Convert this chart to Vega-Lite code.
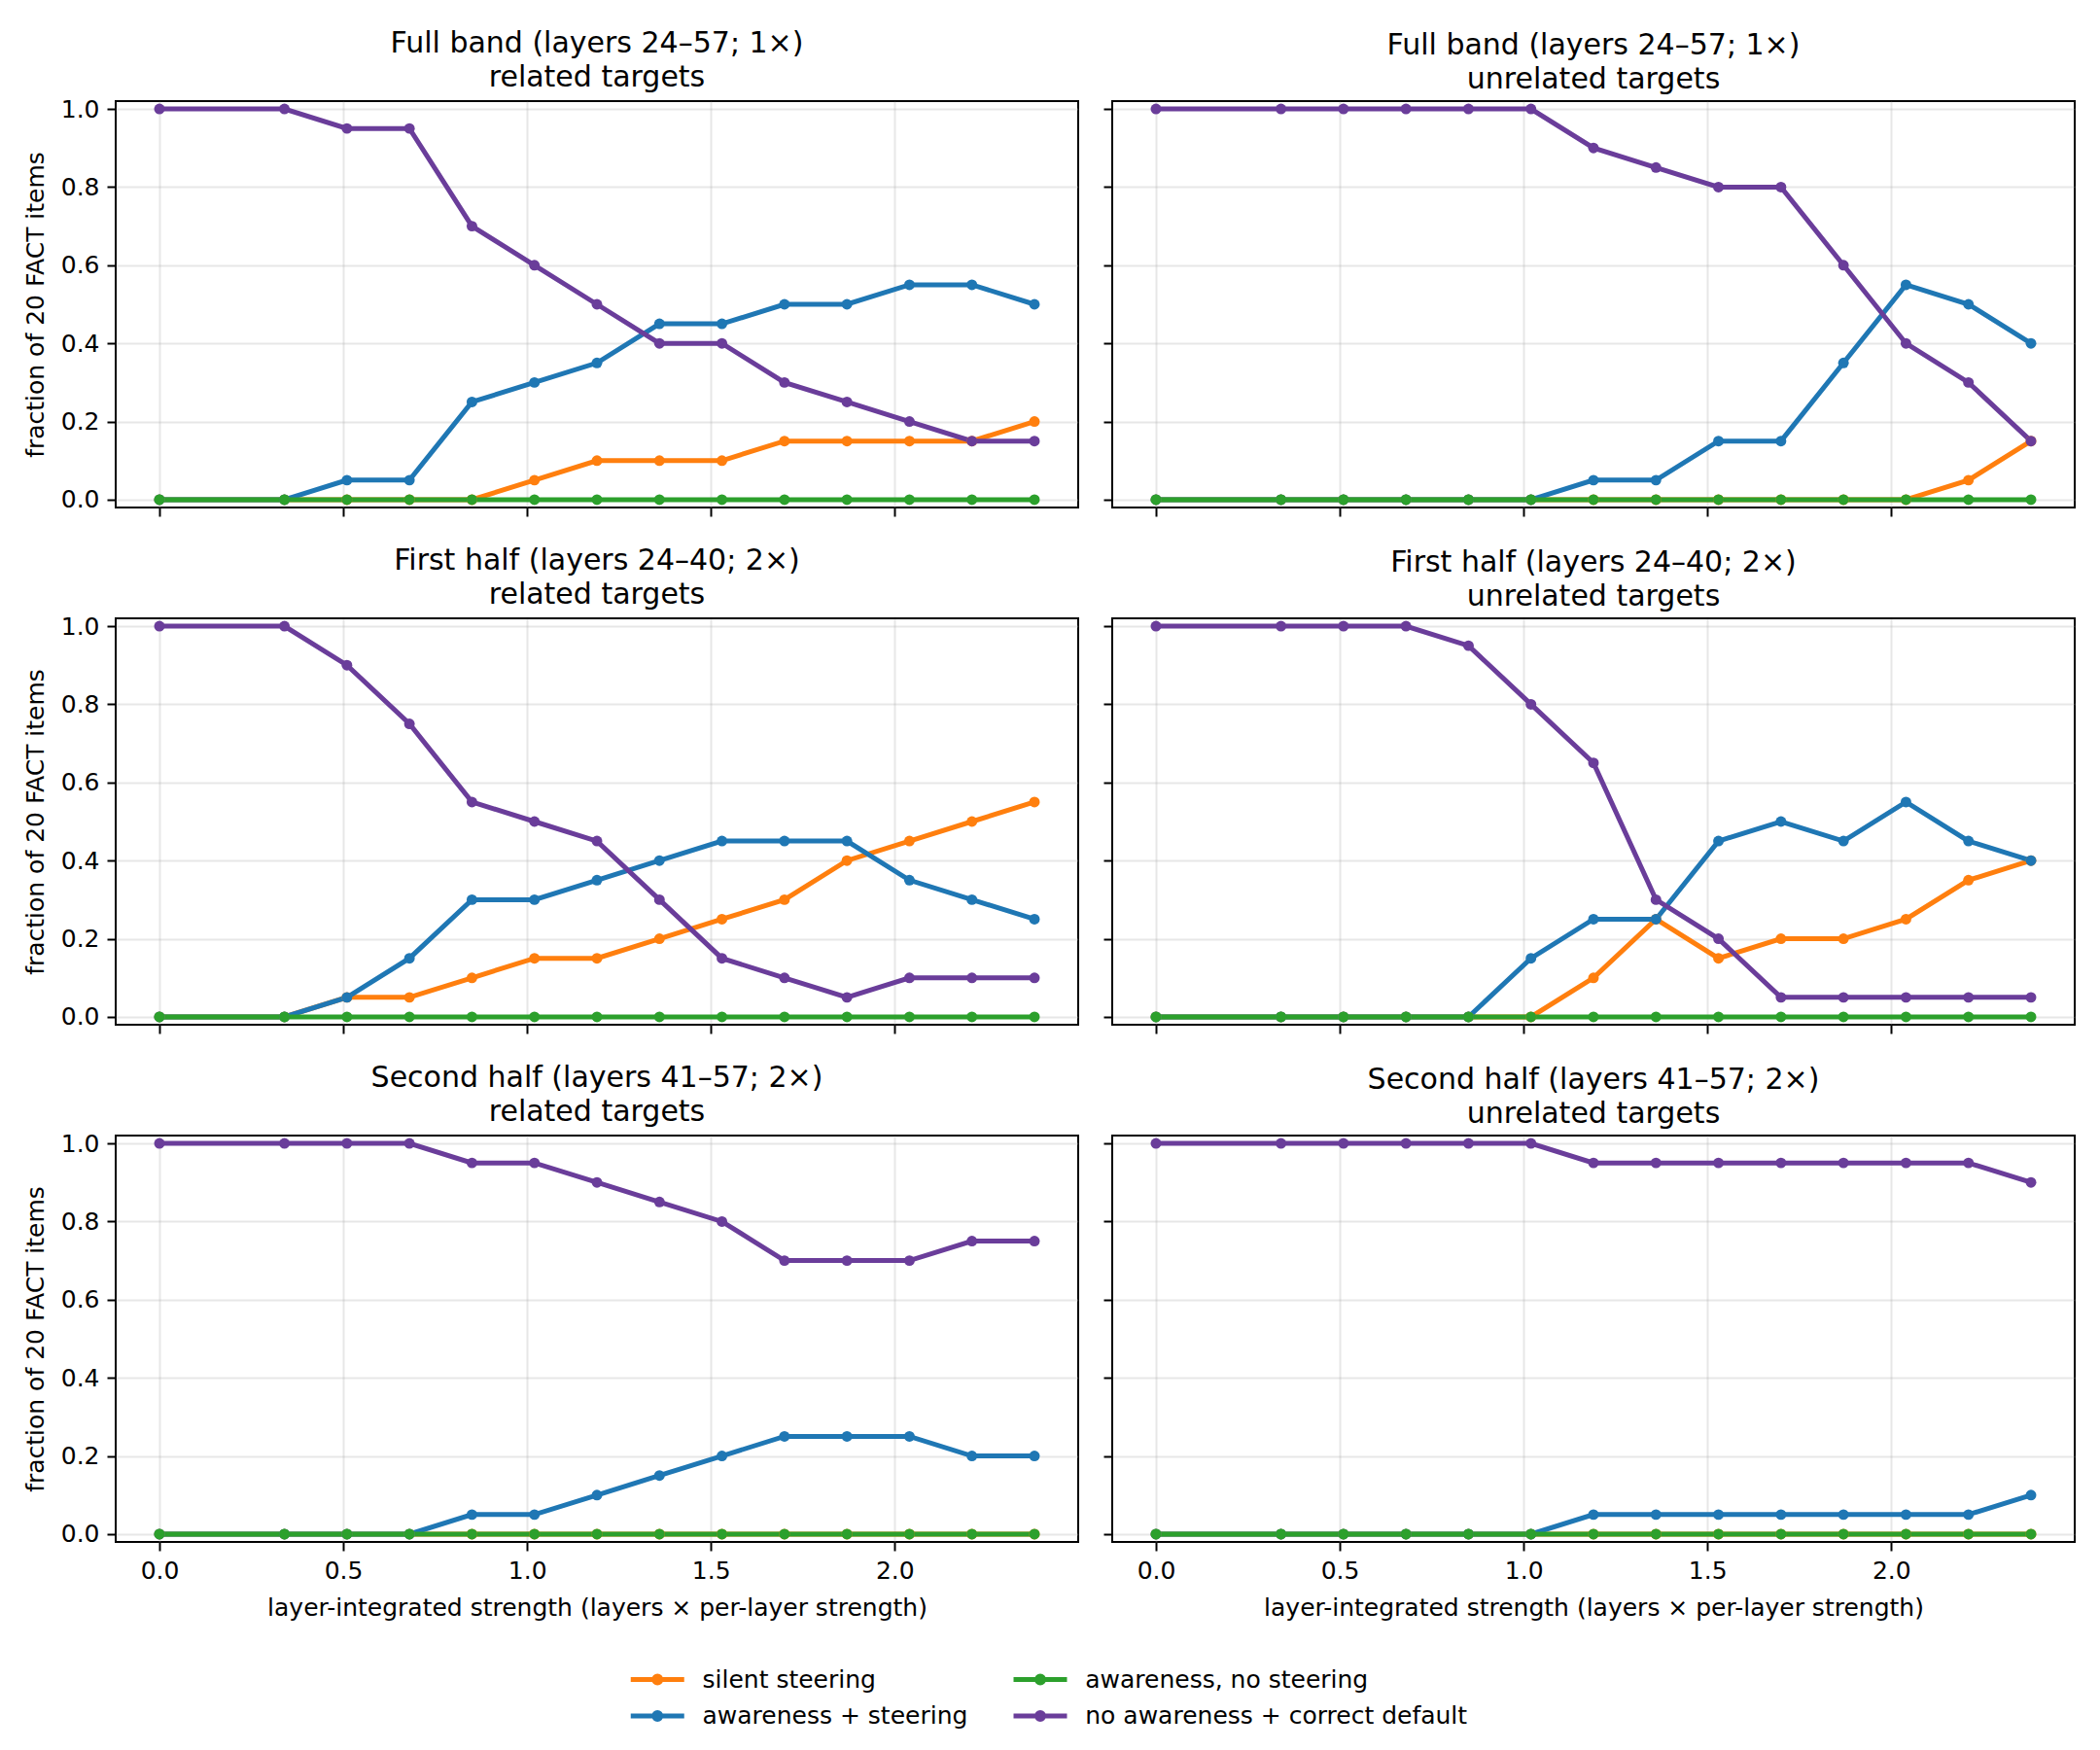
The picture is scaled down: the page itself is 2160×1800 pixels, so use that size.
{
"$schema": "https://vega.github.io/schema/vega-lite/v6.json",
"background": "white",
"padding": {"left": 23, "top": 28, "right": 5, "bottom": 5},
"columns": 2,
"spacing": {"row": 114, "column": 35},
"bounds": "flush",
"datasets": {"d": [
{"p":"FR","s":"a","x":0,"v":0},{"p":"FR","s":"a","x":0.34,"v":0},{"p":"FR","s":"a","x":0.51,"v":0},{"p":"FR","s":"a","x":0.68,"v":0},{"p":"FR","s":"a","x":0.85,"v":0},{"p":"FR","s":"a","x":1.02,"v":0.05},{"p":"FR","s":"a","x":1.19,"v":0.1},{"p":"FR","s":"a","x":1.36,"v":0.1},{"p":"FR","s":"a","x":1.53,"v":0.1},{"p":"FR","s":"a","x":1.7,"v":0.15},{"p":"FR","s":"a","x":1.87,"v":0.15},{"p":"FR","s":"a","x":2.04,"v":0.15},{"p":"FR","s":"a","x":2.21,"v":0.15},{"p":"FR","s":"a","x":2.38,"v":0.2},
{"p":"FR","s":"b","x":0,"v":0},{"p":"FR","s":"b","x":0.34,"v":0},{"p":"FR","s":"b","x":0.51,"v":0.05},{"p":"FR","s":"b","x":0.68,"v":0.05},{"p":"FR","s":"b","x":0.85,"v":0.25},{"p":"FR","s":"b","x":1.02,"v":0.3},{"p":"FR","s":"b","x":1.19,"v":0.35},{"p":"FR","s":"b","x":1.36,"v":0.45},{"p":"FR","s":"b","x":1.53,"v":0.45},{"p":"FR","s":"b","x":1.7,"v":0.5},{"p":"FR","s":"b","x":1.87,"v":0.5},{"p":"FR","s":"b","x":2.04,"v":0.55},{"p":"FR","s":"b","x":2.21,"v":0.55},{"p":"FR","s":"b","x":2.38,"v":0.5},
{"p":"FR","s":"c","x":0,"v":0},{"p":"FR","s":"c","x":0.34,"v":0},{"p":"FR","s":"c","x":0.51,"v":0},{"p":"FR","s":"c","x":0.68,"v":0},{"p":"FR","s":"c","x":0.85,"v":0},{"p":"FR","s":"c","x":1.02,"v":0},{"p":"FR","s":"c","x":1.19,"v":0},{"p":"FR","s":"c","x":1.36,"v":0},{"p":"FR","s":"c","x":1.53,"v":0},{"p":"FR","s":"c","x":1.7,"v":0},{"p":"FR","s":"c","x":1.87,"v":0},{"p":"FR","s":"c","x":2.04,"v":0},{"p":"FR","s":"c","x":2.21,"v":0},{"p":"FR","s":"c","x":2.38,"v":0},
{"p":"FR","s":"d","x":0,"v":1},{"p":"FR","s":"d","x":0.34,"v":1},{"p":"FR","s":"d","x":0.51,"v":0.95},{"p":"FR","s":"d","x":0.68,"v":0.95},{"p":"FR","s":"d","x":0.85,"v":0.7},{"p":"FR","s":"d","x":1.02,"v":0.6},{"p":"FR","s":"d","x":1.19,"v":0.5},{"p":"FR","s":"d","x":1.36,"v":0.4},{"p":"FR","s":"d","x":1.53,"v":0.4},{"p":"FR","s":"d","x":1.7,"v":0.3},{"p":"FR","s":"d","x":1.87,"v":0.25},{"p":"FR","s":"d","x":2.04,"v":0.2},{"p":"FR","s":"d","x":2.21,"v":0.15},{"p":"FR","s":"d","x":2.38,"v":0.15},

{"p":"FU","s":"a","x":0,"v":0},{"p":"FU","s":"a","x":0.34,"v":0},{"p":"FU","s":"a","x":0.51,"v":0},{"p":"FU","s":"a","x":0.68,"v":0},{"p":"FU","s":"a","x":0.85,"v":0},{"p":"FU","s":"a","x":1.02,"v":0},{"p":"FU","s":"a","x":1.19,"v":0},{"p":"FU","s":"a","x":1.36,"v":0},{"p":"FU","s":"a","x":1.53,"v":0},{"p":"FU","s":"a","x":1.7,"v":0},{"p":"FU","s":"a","x":1.87,"v":0},{"p":"FU","s":"a","x":2.04,"v":0},{"p":"FU","s":"a","x":2.21,"v":0.05},{"p":"FU","s":"a","x":2.38,"v":0.15},
{"p":"FU","s":"b","x":0,"v":0},{"p":"FU","s":"b","x":0.34,"v":0},{"p":"FU","s":"b","x":0.51,"v":0},{"p":"FU","s":"b","x":0.68,"v":0},{"p":"FU","s":"b","x":0.85,"v":0},{"p":"FU","s":"b","x":1.02,"v":0},{"p":"FU","s":"b","x":1.19,"v":0.05},{"p":"FU","s":"b","x":1.36,"v":0.05},{"p":"FU","s":"b","x":1.53,"v":0.15},{"p":"FU","s":"b","x":1.7,"v":0.15},{"p":"FU","s":"b","x":1.87,"v":0.35},{"p":"FU","s":"b","x":2.04,"v":0.55},{"p":"FU","s":"b","x":2.21,"v":0.5},{"p":"FU","s":"b","x":2.38,"v":0.4},
{"p":"FU","s":"c","x":0,"v":0},{"p":"FU","s":"c","x":0.34,"v":0},{"p":"FU","s":"c","x":0.51,"v":0},{"p":"FU","s":"c","x":0.68,"v":0},{"p":"FU","s":"c","x":0.85,"v":0},{"p":"FU","s":"c","x":1.02,"v":0},{"p":"FU","s":"c","x":1.19,"v":0},{"p":"FU","s":"c","x":1.36,"v":0},{"p":"FU","s":"c","x":1.53,"v":0},{"p":"FU","s":"c","x":1.7,"v":0},{"p":"FU","s":"c","x":1.87,"v":0},{"p":"FU","s":"c","x":2.04,"v":0},{"p":"FU","s":"c","x":2.21,"v":0},{"p":"FU","s":"c","x":2.38,"v":0},
{"p":"FU","s":"d","x":0,"v":1},{"p":"FU","s":"d","x":0.34,"v":1},{"p":"FU","s":"d","x":0.51,"v":1},{"p":"FU","s":"d","x":0.68,"v":1},{"p":"FU","s":"d","x":0.85,"v":1},{"p":"FU","s":"d","x":1.02,"v":1},{"p":"FU","s":"d","x":1.19,"v":0.9},{"p":"FU","s":"d","x":1.36,"v":0.85},{"p":"FU","s":"d","x":1.53,"v":0.8},{"p":"FU","s":"d","x":1.7,"v":0.8},{"p":"FU","s":"d","x":1.87,"v":0.6},{"p":"FU","s":"d","x":2.04,"v":0.4},{"p":"FU","s":"d","x":2.21,"v":0.3},{"p":"FU","s":"d","x":2.38,"v":0.15},

{"p":"HR","s":"a","x":0,"v":0},{"p":"HR","s":"a","x":0.34,"v":0},{"p":"HR","s":"a","x":0.51,"v":0.05},{"p":"HR","s":"a","x":0.68,"v":0.05},{"p":"HR","s":"a","x":0.85,"v":0.1},{"p":"HR","s":"a","x":1.02,"v":0.15},{"p":"HR","s":"a","x":1.19,"v":0.15},{"p":"HR","s":"a","x":1.36,"v":0.2},{"p":"HR","s":"a","x":1.53,"v":0.25},{"p":"HR","s":"a","x":1.7,"v":0.3},{"p":"HR","s":"a","x":1.87,"v":0.4},{"p":"HR","s":"a","x":2.04,"v":0.45},{"p":"HR","s":"a","x":2.21,"v":0.5},{"p":"HR","s":"a","x":2.38,"v":0.55},
{"p":"HR","s":"b","x":0,"v":0},{"p":"HR","s":"b","x":0.34,"v":0},{"p":"HR","s":"b","x":0.51,"v":0.05},{"p":"HR","s":"b","x":0.68,"v":0.15},{"p":"HR","s":"b","x":0.85,"v":0.3},{"p":"HR","s":"b","x":1.02,"v":0.3},{"p":"HR","s":"b","x":1.19,"v":0.35},{"p":"HR","s":"b","x":1.36,"v":0.4},{"p":"HR","s":"b","x":1.53,"v":0.45},{"p":"HR","s":"b","x":1.7,"v":0.45},{"p":"HR","s":"b","x":1.87,"v":0.45},{"p":"HR","s":"b","x":2.04,"v":0.35},{"p":"HR","s":"b","x":2.21,"v":0.3},{"p":"HR","s":"b","x":2.38,"v":0.25},
{"p":"HR","s":"c","x":0,"v":0},{"p":"HR","s":"c","x":0.34,"v":0},{"p":"HR","s":"c","x":0.51,"v":0},{"p":"HR","s":"c","x":0.68,"v":0},{"p":"HR","s":"c","x":0.85,"v":0},{"p":"HR","s":"c","x":1.02,"v":0},{"p":"HR","s":"c","x":1.19,"v":0},{"p":"HR","s":"c","x":1.36,"v":0},{"p":"HR","s":"c","x":1.53,"v":0},{"p":"HR","s":"c","x":1.7,"v":0},{"p":"HR","s":"c","x":1.87,"v":0},{"p":"HR","s":"c","x":2.04,"v":0},{"p":"HR","s":"c","x":2.21,"v":0},{"p":"HR","s":"c","x":2.38,"v":0},
{"p":"HR","s":"d","x":0,"v":1},{"p":"HR","s":"d","x":0.34,"v":1},{"p":"HR","s":"d","x":0.51,"v":0.9},{"p":"HR","s":"d","x":0.68,"v":0.75},{"p":"HR","s":"d","x":0.85,"v":0.55},{"p":"HR","s":"d","x":1.02,"v":0.5},{"p":"HR","s":"d","x":1.19,"v":0.45},{"p":"HR","s":"d","x":1.36,"v":0.3},{"p":"HR","s":"d","x":1.53,"v":0.15},{"p":"HR","s":"d","x":1.7,"v":0.1},{"p":"HR","s":"d","x":1.87,"v":0.05},{"p":"HR","s":"d","x":2.04,"v":0.1},{"p":"HR","s":"d","x":2.21,"v":0.1},{"p":"HR","s":"d","x":2.38,"v":0.1},

{"p":"HU","s":"a","x":0,"v":0},{"p":"HU","s":"a","x":0.34,"v":0},{"p":"HU","s":"a","x":0.51,"v":0},{"p":"HU","s":"a","x":0.68,"v":0},{"p":"HU","s":"a","x":0.85,"v":0},{"p":"HU","s":"a","x":1.02,"v":0},{"p":"HU","s":"a","x":1.19,"v":0.1},{"p":"HU","s":"a","x":1.36,"v":0.25},{"p":"HU","s":"a","x":1.53,"v":0.15},{"p":"HU","s":"a","x":1.7,"v":0.2},{"p":"HU","s":"a","x":1.87,"v":0.2},{"p":"HU","s":"a","x":2.04,"v":0.25},{"p":"HU","s":"a","x":2.21,"v":0.35},{"p":"HU","s":"a","x":2.38,"v":0.4},
{"p":"HU","s":"b","x":0,"v":0},{"p":"HU","s":"b","x":0.34,"v":0},{"p":"HU","s":"b","x":0.51,"v":0},{"p":"HU","s":"b","x":0.68,"v":0},{"p":"HU","s":"b","x":0.85,"v":0},{"p":"HU","s":"b","x":1.02,"v":0.15},{"p":"HU","s":"b","x":1.19,"v":0.25},{"p":"HU","s":"b","x":1.36,"v":0.25},{"p":"HU","s":"b","x":1.53,"v":0.45},{"p":"HU","s":"b","x":1.7,"v":0.5},{"p":"HU","s":"b","x":1.87,"v":0.45},{"p":"HU","s":"b","x":2.04,"v":0.55},{"p":"HU","s":"b","x":2.21,"v":0.45},{"p":"HU","s":"b","x":2.38,"v":0.4},
{"p":"HU","s":"c","x":0,"v":0},{"p":"HU","s":"c","x":0.34,"v":0},{"p":"HU","s":"c","x":0.51,"v":0},{"p":"HU","s":"c","x":0.68,"v":0},{"p":"HU","s":"c","x":0.85,"v":0},{"p":"HU","s":"c","x":1.02,"v":0},{"p":"HU","s":"c","x":1.19,"v":0},{"p":"HU","s":"c","x":1.36,"v":0},{"p":"HU","s":"c","x":1.53,"v":0},{"p":"HU","s":"c","x":1.7,"v":0},{"p":"HU","s":"c","x":1.87,"v":0},{"p":"HU","s":"c","x":2.04,"v":0},{"p":"HU","s":"c","x":2.21,"v":0},{"p":"HU","s":"c","x":2.38,"v":0},
{"p":"HU","s":"d","x":0,"v":1},{"p":"HU","s":"d","x":0.34,"v":1},{"p":"HU","s":"d","x":0.51,"v":1},{"p":"HU","s":"d","x":0.68,"v":1},{"p":"HU","s":"d","x":0.85,"v":0.95},{"p":"HU","s":"d","x":1.02,"v":0.8},{"p":"HU","s":"d","x":1.19,"v":0.65},{"p":"HU","s":"d","x":1.36,"v":0.3},{"p":"HU","s":"d","x":1.53,"v":0.2},{"p":"HU","s":"d","x":1.7,"v":0.05},{"p":"HU","s":"d","x":1.87,"v":0.05},{"p":"HU","s":"d","x":2.04,"v":0.05},{"p":"HU","s":"d","x":2.21,"v":0.05},{"p":"HU","s":"d","x":2.38,"v":0.05},

{"p":"SR","s":"a","x":0,"v":0},{"p":"SR","s":"a","x":0.34,"v":0},{"p":"SR","s":"a","x":0.51,"v":0},{"p":"SR","s":"a","x":0.68,"v":0},{"p":"SR","s":"a","x":0.85,"v":0},{"p":"SR","s":"a","x":1.02,"v":0},{"p":"SR","s":"a","x":1.19,"v":0},{"p":"SR","s":"a","x":1.36,"v":0},{"p":"SR","s":"a","x":1.53,"v":0},{"p":"SR","s":"a","x":1.7,"v":0},{"p":"SR","s":"a","x":1.87,"v":0},{"p":"SR","s":"a","x":2.04,"v":0},{"p":"SR","s":"a","x":2.21,"v":0},{"p":"SR","s":"a","x":2.38,"v":0},
{"p":"SR","s":"b","x":0,"v":0},{"p":"SR","s":"b","x":0.34,"v":0},{"p":"SR","s":"b","x":0.51,"v":0},{"p":"SR","s":"b","x":0.68,"v":0},{"p":"SR","s":"b","x":0.85,"v":0.05},{"p":"SR","s":"b","x":1.02,"v":0.05},{"p":"SR","s":"b","x":1.19,"v":0.1},{"p":"SR","s":"b","x":1.36,"v":0.15},{"p":"SR","s":"b","x":1.53,"v":0.2},{"p":"SR","s":"b","x":1.7,"v":0.25},{"p":"SR","s":"b","x":1.87,"v":0.25},{"p":"SR","s":"b","x":2.04,"v":0.25},{"p":"SR","s":"b","x":2.21,"v":0.2},{"p":"SR","s":"b","x":2.38,"v":0.2},
{"p":"SR","s":"c","x":0,"v":0},{"p":"SR","s":"c","x":0.34,"v":0},{"p":"SR","s":"c","x":0.51,"v":0},{"p":"SR","s":"c","x":0.68,"v":0},{"p":"SR","s":"c","x":0.85,"v":0},{"p":"SR","s":"c","x":1.02,"v":0},{"p":"SR","s":"c","x":1.19,"v":0},{"p":"SR","s":"c","x":1.36,"v":0},{"p":"SR","s":"c","x":1.53,"v":0},{"p":"SR","s":"c","x":1.7,"v":0},{"p":"SR","s":"c","x":1.87,"v":0},{"p":"SR","s":"c","x":2.04,"v":0},{"p":"SR","s":"c","x":2.21,"v":0},{"p":"SR","s":"c","x":2.38,"v":0},
{"p":"SR","s":"d","x":0,"v":1},{"p":"SR","s":"d","x":0.34,"v":1},{"p":"SR","s":"d","x":0.51,"v":1},{"p":"SR","s":"d","x":0.68,"v":1},{"p":"SR","s":"d","x":0.85,"v":0.95},{"p":"SR","s":"d","x":1.02,"v":0.95},{"p":"SR","s":"d","x":1.19,"v":0.9},{"p":"SR","s":"d","x":1.36,"v":0.85},{"p":"SR","s":"d","x":1.53,"v":0.8},{"p":"SR","s":"d","x":1.7,"v":0.7},{"p":"SR","s":"d","x":1.87,"v":0.7},{"p":"SR","s":"d","x":2.04,"v":0.7},{"p":"SR","s":"d","x":2.21,"v":0.75},{"p":"SR","s":"d","x":2.38,"v":0.75},

{"p":"SU","s":"a","x":0,"v":0},{"p":"SU","s":"a","x":0.34,"v":0},{"p":"SU","s":"a","x":0.51,"v":0},{"p":"SU","s":"a","x":0.68,"v":0},{"p":"SU","s":"a","x":0.85,"v":0},{"p":"SU","s":"a","x":1.02,"v":0},{"p":"SU","s":"a","x":1.19,"v":0},{"p":"SU","s":"a","x":1.36,"v":0},{"p":"SU","s":"a","x":1.53,"v":0},{"p":"SU","s":"a","x":1.7,"v":0},{"p":"SU","s":"a","x":1.87,"v":0},{"p":"SU","s":"a","x":2.04,"v":0},{"p":"SU","s":"a","x":2.21,"v":0},{"p":"SU","s":"a","x":2.38,"v":0},
{"p":"SU","s":"b","x":0,"v":0},{"p":"SU","s":"b","x":0.34,"v":0},{"p":"SU","s":"b","x":0.51,"v":0},{"p":"SU","s":"b","x":0.68,"v":0},{"p":"SU","s":"b","x":0.85,"v":0},{"p":"SU","s":"b","x":1.02,"v":0},{"p":"SU","s":"b","x":1.19,"v":0.05},{"p":"SU","s":"b","x":1.36,"v":0.05},{"p":"SU","s":"b","x":1.53,"v":0.05},{"p":"SU","s":"b","x":1.7,"v":0.05},{"p":"SU","s":"b","x":1.87,"v":0.05},{"p":"SU","s":"b","x":2.04,"v":0.05},{"p":"SU","s":"b","x":2.21,"v":0.05},{"p":"SU","s":"b","x":2.38,"v":0.1},
{"p":"SU","s":"c","x":0,"v":0},{"p":"SU","s":"c","x":0.34,"v":0},{"p":"SU","s":"c","x":0.51,"v":0},{"p":"SU","s":"c","x":0.68,"v":0},{"p":"SU","s":"c","x":0.85,"v":0},{"p":"SU","s":"c","x":1.02,"v":0},{"p":"SU","s":"c","x":1.19,"v":0},{"p":"SU","s":"c","x":1.36,"v":0},{"p":"SU","s":"c","x":1.53,"v":0},{"p":"SU","s":"c","x":1.7,"v":0},{"p":"SU","s":"c","x":1.87,"v":0},{"p":"SU","s":"c","x":2.04,"v":0},{"p":"SU","s":"c","x":2.21,"v":0},{"p":"SU","s":"c","x":2.38,"v":0},
{"p":"SU","s":"d","x":0,"v":1},{"p":"SU","s":"d","x":0.34,"v":1},{"p":"SU","s":"d","x":0.51,"v":1},{"p":"SU","s":"d","x":0.68,"v":1},{"p":"SU","s":"d","x":0.85,"v":1},{"p":"SU","s":"d","x":1.02,"v":1},{"p":"SU","s":"d","x":1.19,"v":0.95},{"p":"SU","s":"d","x":1.36,"v":0.95},{"p":"SU","s":"d","x":1.53,"v":0.95},{"p":"SU","s":"d","x":1.7,"v":0.95},{"p":"SU","s":"d","x":1.87,"v":0.95},{"p":"SU","s":"d","x":2.04,"v":0.95},{"p":"SU","s":"d","x":2.21,"v":0.95},{"p":"SU","s":"d","x":2.38,"v":0.9}
]},
"data": {"name": "d"},
"concat": [
{"title": {"text": ["Full band (layers 24–57; 1×)", "related targets"]}, "width": 990, "height": 418,
 "transform": [{"filter": "datum.p == 'FR'"}],
 "mark": {"type": "line", "point": {"filled": true, "size": 120, "opacity": 1}, "strokeWidth": 5},
 "encoding": {
  "x": {"field": "x", "type": "quantitative", "scale": {"domain": [-0.119, 2.499], "nice": false, "zero": false}, "axis": {"values": [0, 0.5, 1, 1.5, 2], "labels": false, "title": null}},
  "y": {"field": "v", "type": "quantitative", "scale": {"domain": [-0.02, 1.02], "nice": false, "zero": false}, "axis": {"values": [0, 0.2, 0.4, 0.6, 0.8, 1], "format": ".1f", "title": "fraction of 20 FACT items"}},
  "color": {"field": "s", "type": "nominal", "scale": {"domain": ["a", "b", "c", "d"], "range": ["#ff7f0e", "#1f77b4", "#2ca02c", "#6a3d9a"]},
   "legend": {"orient": "none", "legendX": 540.75, "legendY": 1607, "columns": 2, "title": null, "labelExpr": "datum.value == 'a' ? 'silent steering' : datum.value == 'b' ? 'awareness + steering' : datum.value == 'c' ? 'awareness, no steering' : 'no awareness + correct default'"}}
 }},
{"title": {"text": ["Full band (layers 24–57; 1×)", "unrelated targets"]}, "width": 990, "height": 418,
 "transform": [{"filter": "datum.p == 'FU'"}],
 "mark": {"type": "line", "point": {"filled": true, "size": 120, "opacity": 1}, "strokeWidth": 5},
 "encoding": {
  "x": {"field": "x", "type": "quantitative", "scale": {"domain": [-0.119, 2.499], "nice": false, "zero": false}, "axis": {"values": [0, 0.5, 1, 1.5, 2], "labels": false, "title": null}},
  "y": {"field": "v", "type": "quantitative", "scale": {"domain": [-0.02, 1.02], "nice": false, "zero": false}, "axis": {"values": [0, 0.2, 0.4, 0.6, 0.8, 1], "labels": false, "title": null}},
  "color": {"field": "s", "type": "nominal", "scale": {"domain": ["a", "b", "c", "d"], "range": ["#ff7f0e", "#1f77b4", "#2ca02c", "#6a3d9a"]}}
 }},
{"title": {"text": ["First half (layers 24–40; 2×)", "related targets"]}, "width": 990, "height": 418,
 "transform": [{"filter": "datum.p == 'HR'"}],
 "mark": {"type": "line", "point": {"filled": true, "size": 120, "opacity": 1}, "strokeWidth": 5},
 "encoding": {
  "x": {"field": "x", "type": "quantitative", "scale": {"domain": [-0.119, 2.499], "nice": false, "zero": false}, "axis": {"values": [0, 0.5, 1, 1.5, 2], "labels": false, "title": null}},
  "y": {"field": "v", "type": "quantitative", "scale": {"domain": [-0.02, 1.02], "nice": false, "zero": false}, "axis": {"values": [0, 0.2, 0.4, 0.6, 0.8, 1], "format": ".1f", "title": "fraction of 20 FACT items"}},
  "color": {"field": "s", "type": "nominal", "scale": {"domain": ["a", "b", "c", "d"], "range": ["#ff7f0e", "#1f77b4", "#2ca02c", "#6a3d9a"]}}
 }},
{"title": {"text": ["First half (layers 24–40; 2×)", "unrelated targets"]}, "width": 990, "height": 418,
 "transform": [{"filter": "datum.p == 'HU'"}],
 "mark": {"type": "line", "point": {"filled": true, "size": 120, "opacity": 1}, "strokeWidth": 5},
 "encoding": {
  "x": {"field": "x", "type": "quantitative", "scale": {"domain": [-0.119, 2.499], "nice": false, "zero": false}, "axis": {"values": [0, 0.5, 1, 1.5, 2], "labels": false, "title": null}},
  "y": {"field": "v", "type": "quantitative", "scale": {"domain": [-0.02, 1.02], "nice": false, "zero": false}, "axis": {"values": [0, 0.2, 0.4, 0.6, 0.8, 1], "labels": false, "title": null}},
  "color": {"field": "s", "type": "nominal", "scale": {"domain": ["a", "b", "c", "d"], "range": ["#ff7f0e", "#1f77b4", "#2ca02c", "#6a3d9a"]}}
 }},
{"title": {"text": ["Second half (layers 41–57; 2×)", "related targets"]}, "width": 990, "height": 418,
 "transform": [{"filter": "datum.p == 'SR'"}],
 "mark": {"type": "line", "point": {"filled": true, "size": 120, "opacity": 1}, "strokeWidth": 5},
 "encoding": {
  "x": {"field": "x", "type": "quantitative", "scale": {"domain": [-0.119, 2.499], "nice": false, "zero": false}, "axis": {"values": [0, 0.5, 1, 1.5, 2], "format": ".1f", "title": "layer-integrated strength (layers × per-layer strength)"}},
  "y": {"field": "v", "type": "quantitative", "scale": {"domain": [-0.02, 1.02], "nice": false, "zero": false}, "axis": {"values": [0, 0.2, 0.4, 0.6, 0.8, 1], "format": ".1f", "title": "fraction of 20 FACT items"}},
  "color": {"field": "s", "type": "nominal", "scale": {"domain": ["a", "b", "c", "d"], "range": ["#ff7f0e", "#1f77b4", "#2ca02c", "#6a3d9a"]}}
 }},
{"title": {"text": ["Second half (layers 41–57; 2×)", "unrelated targets"]}, "width": 990, "height": 418,
 "transform": [{"filter": "datum.p == 'SU'"}],
 "mark": {"type": "line", "point": {"filled": true, "size": 120, "opacity": 1}, "strokeWidth": 5},
 "encoding": {
  "x": {"field": "x", "type": "quantitative", "scale": {"domain": [-0.119, 2.499], "nice": false, "zero": false}, "axis": {"values": [0, 0.5, 1, 1.5, 2], "format": ".1f", "title": "layer-integrated strength (layers × per-layer strength)"}},
  "y": {"field": "v", "type": "quantitative", "scale": {"domain": [-0.02, 1.02], "nice": false, "zero": false}, "axis": {"values": [0, 0.2, 0.4, 0.6, 0.8, 1], "labels": false, "title": null}},
  "color": {"field": "s", "type": "nominal", "scale": {"domain": ["a", "b", "c", "d"], "range": ["#ff7f0e", "#1f77b4", "#2ca02c", "#6a3d9a"]}}
 }}
],
"config": {
 "font": "DejaVu Sans",
 "view": {"stroke": "black", "strokeWidth": 2},
 "axis": {"domain": false, "grid": true, "gridColor": "#b0b0b0", "gridOpacity": 0.3, "gridWidth": 2, "tickColor": "black", "tickWidth": 2, "tickSize": 9, "labelFont": "DejaVu Sans", "labelFontSize": 25, "labelColor": "black", "labelPadding": 8, "titleFont": "DejaVu Sans", "titleFontSize": 25, "titleFontWeight": "normal", "titleColor": "black"},
 "axisX": {"titlePadding": 13},
 "axisY": {"titlePadding": 13},
 "title": {"font": "DejaVu Sans", "fontSize": 30, "fontWeight": "normal", "color": "black", "lineHeight": 35.5, "offset": 5, "baseline": "alphabetic", "anchor": "middle"},
 "legend": {"symbolType": "M-2,0L2,0M-0.2545,0A0.2545,0.2545,0,1,1,0.2545,0A0.2545,0.2545,0,1,1,-0.2545,0Z", "symbolSize": 756, "symbolStrokeWidth": 5, "labelFont": "DejaVu Sans", "labelFontSize": 25, "labelColor": "black", "labelOffset": 29.75, "columnPadding": 36.75, "rowPadding": 7.5, "labelLimit": 700}
}
}
